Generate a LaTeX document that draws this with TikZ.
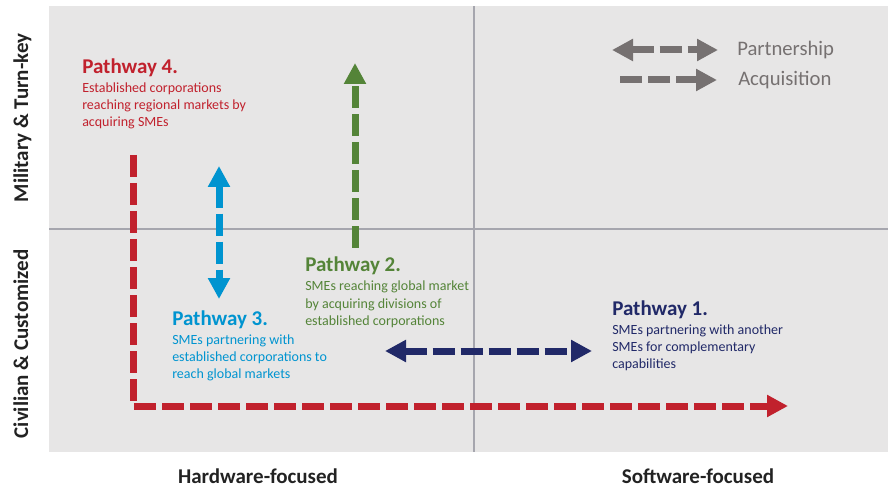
\documentclass[tikz,border=0pt]{standalone}
\usepackage{fontspec}
\setmainfont{Carlito}
\usetikzlibrary{arrows.meta}
\definecolor{bgc}{HTML}{E7E6E6}
\definecolor{divc}{HTML}{A6A6AE}
\definecolor{redc}{RGB}{193,33,45}
\definecolor{greenc}{RGB}{84,132,56}
\definecolor{bluec}{RGB}{0,148,208}
\definecolor{navyc}{RGB}{33,41,104}
\definecolor{legc}{HTML}{767171}
\definecolor{axc}{HTML}{222222}
\tikzset{
  flow/.style={line width=5.25pt, dash pattern=on 16.5pt off 4.5pt, line cap=butt},
  tipone/.style={-{Triangle[length=15.75pt,width=15.75pt]}},
  tiptwo/.style={{Triangle[length=15.75pt,width=15.75pt]}-{Triangle[length=15.75pt,width=15.75pt]}},
  ptitle/.style={anchor=base west, inner sep=0pt, font=\bfseries\fontsize{15.75}{18}\selectfont},
  pdesc/.style={anchor=base west, inner sep=0pt, align=left, font=\fontsize{10.5}{12.75}\selectfont},
  axlab/.style={anchor=base, inner sep=0pt, text=axc, font=\bfseries\fontsize{15.75}{18}\selectfont},
  leglab/.style={anchor=west, inner sep=0pt, text=legc, font=\fontsize{15.5}{18}\selectfont}
}
\begin{document}
\begin{tikzpicture}[x=0.75pt,y=-0.75pt]
\useasboundingbox (0,0) rectangle (888,488);
% background panel and dividers
\fill[bgc] (49,6) rectangle (888,452);
\draw[divc, line width=1.3pt] (474,6) -- (474,452);
\draw[divc, line width=1.3pt] (49,229) -- (888,229);

% axis labels
\node[axlab, rotate=90] (mil) at (28,118) {Military \& Turn-key};
\node[axlab, rotate=90] (civ) at (28,344) {Civilian \& Customized};
\node[axlab] (hw) at (258,483) {Hardware-focused};
\node[axlab] (sw) at (698,483) {Software-focused};

% legend
\coordinate (lp1) at (612,50);
\coordinate (lp2) at (718,50);
\coordinate (la1) at (620,80);
\coordinate (la2) at (717,80);
\draw[flow, legc, tiptwo] (lp1) -- (lp2);
\draw[flow, legc, tipone] (la1) -- (la2);
\node[leglab] (lpt) at (737,50) {Partnership};
\node[leglab] (lat) at (738,80) {Acquisition};

% pathway 4 (red)
\coordinate (r1) at (133,155);
\coordinate (r2) at (788,406);
\draw[flow, redc, tipone, line join=miter] (r1) |- (r2);
\node[ptitle, text=redc] (p4t) at (82,74) {Pathway 4.};
\node[pdesc, text=redc] (p4d) at (82,127) {Established corporations\\reaching regional markets by\\acquiring SMEs};

% pathway 3 (blue)
\coordinate (b1) at (219,166);
\coordinate (b2) at (219,299);
\draw[flow, bluec, tiptwo] (b1) -- (b2);
\node[ptitle, text=bluec] (p3t) at (172,325) {Pathway 3.};
\node[pdesc, text=bluec] (p3d) at (172,378) {SMEs partnering with\\established corporations to\\reach global markets};

% pathway 2 (green)
\coordinate (g1) at (355,248);
\coordinate (g2) at (355,63);
\draw[flow, greenc, tipone] (g1) -- (g2);
\node[ptitle, text=greenc] (p2t) at (305,272) {Pathway 2.};
\node[pdesc, text=greenc] (p2d) at (305,325) {SMEs reaching global market\\by acquiring divisions of\\established corporations};

% pathway 1 (navy)
\coordinate (n1) at (385,351);
\coordinate (n2) at (592,351);
\draw[flow, navyc, tiptwo] (n1) -- (n2);
\node[ptitle, text=navyc] (p1t) at (612,315) {Pathway 1.};
\node[pdesc, text=navyc] (p1d) at (612,368) {SMEs partnering with another\\SMEs for complementary\\capabilities};
\end{tikzpicture}
\end{document}
